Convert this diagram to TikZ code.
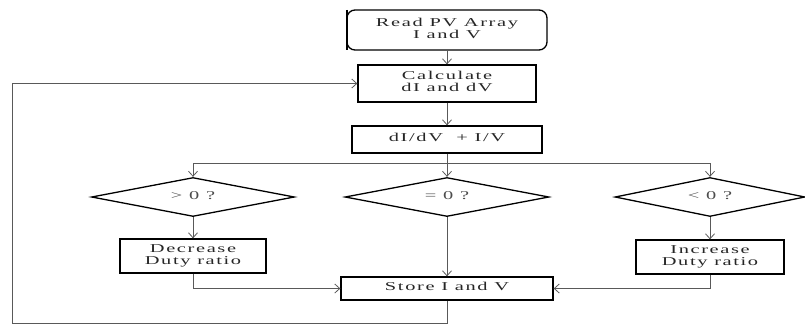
\documentclass[tikz,border=0pt]{standalone}
\usepackage{fontspec}
\usepackage{graphicx}
\setmainfont{Liberation Serif}[LetterSpace=8]
\usetikzlibrary{shapes.geometric,arrows.meta}
\newcommand\wt[1]{\scalebox{1.7}[1]{\begin{tabular}{@{}c@{}}#1\end{tabular}}}
\begin{document}
\begin{tikzpicture}[x=1pt,y=-1pt,
  font=\fontsize{12}{12.5}\selectfont,
  box/.style={draw=black,line width=1.3pt,rectangle,inner sep=0pt,align=center,text=black!85},
  dia/.style={draw=black,line width=1.3pt,diamond,aspect=5,inner sep=0pt,text=black!70},
  conn/.style={draw=black!65,line width=0.9pt},
  arr/.style={conn,-{Straight Barb[length=5pt,width=9pt,line width=0.8pt]}}]
\useasboundingbox (0,0) rectangle (805,325);
\renewcommand\arraystretch{0.95}
\node[box,rounded corners=8pt,minimum width=200pt,minimum height=40pt] (read) at (447,30) {\wt{Read PV Array\\I and V}};
\node[box,minimum width=178pt,minimum height=37pt] (calc) at (447,83.5) {\wt{Calculate\\dI and dV}};
\node[box,minimum width=190pt,minimum height=27pt] (dd) at (447,139.5) {\wt{dI/dV\ \ +\ I/V}};
\node[dia,minimum width=203pt,minimum height=39pt] (dl) at (193,197) {\wt{> 0 ?}};
\node[dia,minimum width=204pt,minimum height=39pt] (dm) at (447,197) {\wt{= 0 ?}};
\node[dia,minimum width=190pt,minimum height=39pt] (dr) at (710,197) {\wt{< 0 ?}};
\node[box,minimum width=146pt,minimum height=34pt] (dec) at (193,256) {\wt{Decrease\\Duty ratio}};
\node[box,minimum width=148pt,minimum height=34pt] (inc) at (710,257) {\wt{Increase\\Duty ratio}};
\node[box,minimum width=212pt,minimum height=23pt] (store) at (447,288.5) {\wt{Store I and V}};
% thick left edges
\foreach \n in {read,calc,dd,dec,inc,store}{
  \draw[line width=2.6pt] ([xshift=0.6pt,yshift=-0.6pt]\n.north west) -- ([xshift=0.6pt,yshift=0.6pt]\n.south west);
}
\coordinate (j) at (447,163);
\coordinate (bl) at (12,323);
\draw[arr] (read) -- (calc);
\draw[arr] (calc) -- (dd);
\draw[conn] (dd.south) -- (j);
\draw[arr] (j) -| (dl.north);
\draw[arr] (j) -- (dm.north);
\draw[arr] (j) -| (dr.north);
\draw[arr] (dl) -- (dec);
\draw[arr] (dr) -- (inc);
\draw[arr] (dm) -- (store);
\draw[arr] (dec.south) |- (store.west);
\draw[arr] (inc.south) |- (store.east);
\draw[arr] (store.south) -- (store.south |- bl) -- (bl) |- (calc.west);
\end{tikzpicture}
\end{document}
